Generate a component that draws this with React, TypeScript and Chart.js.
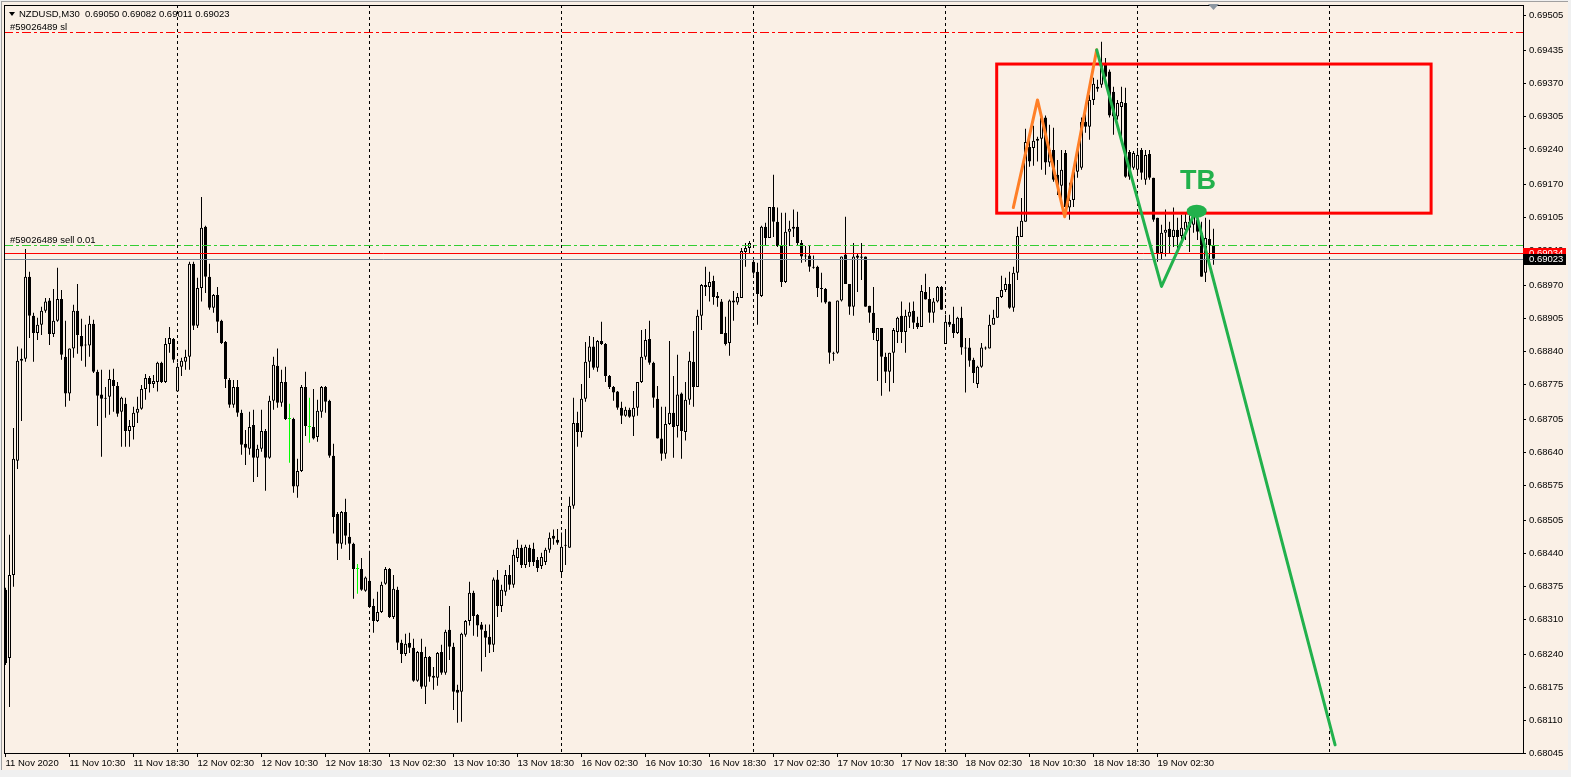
import React, { useEffect, useRef } from "react";
import { Chart, registerables } from "chart.js";

Chart.register(...registerables);

// ---------- DATA (NZDUSD, M30) ----------
const headerText = "NZDUSD,M30  0.69050 0.69082 0.69011 0.69023";

const opens = [
  0.68368,0.68233,0.68397,0.68623,0.68821,0.68825,0.68987,0.68910,0.68876,0.68892,
  0.68920,0.68940,0.68874,0.68900,0.68943,0.68829,0.68756,0.68845,0.68920,0.68870,
  0.68851,0.68851,0.68894,0.68799,0.68754,0.68746,0.68750,0.68783,0.68771,0.68720,
  0.68736,0.68682,0.68690,0.68718,0.68726,0.68765,0.68787,0.68775,0.68779,0.68817,
  0.68779,0.68854,0.68864,0.68760,0.68809,0.68819,0.68829,0.69013,0.68890,0.68965,
  0.69086,0.68987,0.68926,0.68951,0.68900,0.68858,0.68783,0.68734,0.68769,0.68718,
  0.68657,0.68647,0.68694,0.68629,0.68647,0.68682,0.68629,0.68742,0.68811,0.68738,
  0.68779,0.68706,0.68706,0.68572,0.68603,0.68769,0.68690,0.68690,0.68670,0.68720,
  0.68769,0.68742,0.68633,0.68518,0.68459,0.68522,0.68473,0.68459,0.68409,0.68409,
  0.68366,0.68386,0.68336,0.68306,0.68324,0.68380,0.68409,0.68314,0.68368,0.68263,
  0.68241,0.68263,0.68253,0.68188,0.68245,0.68176,0.68235,0.68198,0.68194,0.68245,
  0.68204,0.68289,0.68255,0.68170,0.68166,0.68279,0.68306,0.68362,0.68318,0.68299,
  0.68287,0.68275,0.68259,0.68388,0.68336,0.68364,0.68397,0.68378,0.68431,0.68451,
  0.68417,0.68451,0.68449,0.68427,0.68415,0.68423,0.68447,0.68475,0.68467,0.68403,
  0.68455,0.68451,0.68534,0.68698,0.68680,0.68746,0.68819,0.68849,0.68807,0.68860,
  0.68854,0.68791,0.68769,0.68760,0.68728,0.68712,0.68724,0.68710,0.68728,0.68779,
  0.68829,0.68864,0.68817,0.68746,0.68667,0.68637,0.68696,0.68718,0.68692,0.68756,
  0.68680,0.68744,0.68819,0.68769,0.68910,0.68971,0.68967,0.68979,0.68949,0.68938,
  0.68876,0.68856,0.68936,0.68936,0.68945,0.69036,0.69044,0.69017,0.68997,0.68949,
  0.69086,0.69064,0.69125,0.69096,0.69048,0.68977,0.69076,0.69082,0.69086,0.69054,
  0.69029,0.69029,0.69007,0.69007,0.68965,0.68963,0.68938,0.68837,0.68837,0.68940,
  0.69031,0.68973,0.68928,0.69029,0.69027,0.69027,0.68930,0.68916,0.68860,0.68886,
  0.68829,0.68799,0.68837,0.68878,0.68910,0.68878,0.68908,0.68920,0.68896,0.68888,
  0.68957,0.68943,0.68916,0.68938,0.68967,0.68854,0.68898,0.68894,0.68876,0.68906,
  0.68847,0.68847,0.68823,0.68775,0.68809,0.68845,0.68845,0.68892,0.68906,0.68947,
  0.68961,0.68973,0.68926,0.68995,0.69066,0.69096,0.69244,0.69242,0.69256,0.69260,
  0.69302,0.69213,0.69238,0.69189,0.69167,0.69232,0.69124,0.69139,0.69195,0.69203,
  0.69294,0.69284,0.69337,0.69359,0.69367,0.69406,0.69393,0.69353,0.69304,0.69323,
  0.69331,0.69234,0.69203,0.69199,0.69238,0.69179,0.69230,0.69183,0.69104,0.69034,
  0.69074,0.69082,0.69066,0.69080,0.69068,0.69080,0.69096,0.69090,0.69100,0.69074,
  0.68995,0.69062,0.69050,
];

const highs = [
  0.68372,0.68477,0.68688,0.68849,0.68845,0.69042,0.68997,0.68916,0.68906,0.68928,
  0.68945,0.68945,0.68963,0.69005,0.68961,0.68900,0.68845,0.68932,0.68973,0.68904,
  0.68892,0.68910,0.68902,0.68803,0.68803,0.68769,0.68803,0.68805,0.68779,0.68750,
  0.68748,0.68704,0.68730,0.68750,0.68773,0.68795,0.68791,0.68793,0.68819,0.68819,
  0.68866,0.68888,0.68866,0.68817,0.68827,0.68843,0.69017,0.69017,0.68985,0.69145,
  0.69088,0.69013,0.68953,0.68967,0.68902,0.68860,0.68787,0.68783,0.68783,0.68724,
  0.68684,0.68720,0.68724,0.68655,0.68724,0.68686,0.68752,0.68829,0.68845,0.68803,
  0.68809,0.68736,0.68708,0.68627,0.68773,0.68799,0.68748,0.68765,0.68744,0.68771,
  0.68771,0.68744,0.68657,0.68522,0.68524,0.68548,0.68500,0.68461,0.68419,0.68431,
  0.68394,0.68445,0.68350,0.68364,0.68384,0.68413,0.68411,0.68397,0.68374,0.68269,
  0.68281,0.68283,0.68271,0.68247,0.68271,0.68255,0.68237,0.68215,0.68245,0.68259,
  0.68289,0.68336,0.68263,0.68180,0.68283,0.68308,0.68384,0.68366,0.68320,0.68304,
  0.68299,0.68299,0.68392,0.68407,0.68378,0.68407,0.68417,0.68447,0.68467,0.68457,
  0.68457,0.68457,0.68461,0.68433,0.68441,0.68451,0.68481,0.68487,0.68488,0.68481,
  0.68488,0.68552,0.68748,0.68720,0.68775,0.68858,0.68870,0.68868,0.68862,0.68898,
  0.68856,0.68793,0.68771,0.68761,0.68740,0.68730,0.68728,0.68761,0.68779,0.68882,
  0.68884,0.68900,0.68819,0.68771,0.68730,0.68730,0.68860,0.68791,0.68833,0.68758,
  0.68779,0.68839,0.68880,0.68922,0.68973,0.69007,0.68997,0.68989,0.68957,0.68943,
  0.68908,0.68942,0.68959,0.68955,0.69044,0.69054,0.69058,0.69025,0.69015,0.69088,
  0.69094,0.69125,0.69189,0.69124,0.69114,0.69114,0.69098,0.69120,0.69116,0.69060,
  0.69048,0.69048,0.69029,0.69009,0.68995,0.68965,0.68938,0.68839,0.68940,0.69027,
  0.69106,0.68973,0.69054,0.69034,0.69054,0.69027,0.68930,0.68967,0.68886,0.68886,
  0.68837,0.68837,0.68886,0.68908,0.68938,0.68922,0.68936,0.68938,0.68908,0.68971,
  0.68993,0.68967,0.68945,0.68969,0.68969,0.68912,0.68912,0.68928,0.68908,0.68928,
  0.68866,0.68866,0.68827,0.68811,0.68856,0.68849,0.68912,0.68922,0.68947,0.68989,
  0.68985,0.68997,0.69007,0.69086,0.69143,0.69280,0.69258,0.69286,0.69264,0.69304,
  0.69306,0.69288,0.69282,0.69218,0.69238,0.69238,0.69173,0.69179,0.69248,0.69302,
  0.69313,0.69347,0.69381,0.69377,0.69452,0.69420,0.69397,0.69363,0.69337,0.69363,
  0.69361,0.69238,0.69236,0.69242,0.69242,0.69238,0.69238,0.69183,0.69104,0.69090,
  0.69120,0.69096,0.69124,0.69104,0.69110,0.69112,0.69124,0.69124,0.69120,0.69096,
  0.69104,0.69100,0.69082,
];

const lows = [
  0.68219,0.68136,0.68374,0.68607,0.68702,0.68819,0.68866,0.68819,0.68862,0.68872,
  0.68916,0.68852,0.68868,0.68898,0.68823,0.68730,0.68742,0.68827,0.68835,0.68821,
  0.68809,0.68829,0.68797,0.68692,0.68631,0.68708,0.68714,0.68720,0.68710,0.68651,
  0.68651,0.68651,0.68665,0.68698,0.68724,0.68744,0.68758,0.68767,0.68760,0.68777,
  0.68777,0.68837,0.68817,0.68760,0.68791,0.68803,0.68803,0.68882,0.68886,0.68938,
  0.68955,0.68922,0.68916,0.68876,0.68854,0.68767,0.68728,0.68728,0.68710,0.68635,
  0.68615,0.68635,0.68581,0.68591,0.68641,0.68564,0.68627,0.68724,0.68728,0.68730,
  0.68704,0.68619,0.68560,0.68550,0.68601,0.68672,0.68659,0.68665,0.68661,0.68708,
  0.68718,0.68629,0.68479,0.68427,0.68449,0.68457,0.68427,0.68350,0.68360,0.68366,
  0.68364,0.68332,0.68283,0.68304,0.68322,0.68378,0.68312,0.68310,0.68249,0.68223,
  0.68237,0.68243,0.68186,0.68186,0.68172,0.68142,0.68186,0.68170,0.68178,0.68200,
  0.68200,0.68229,0.68130,0.68105,0.68107,0.68275,0.68297,0.68277,0.68275,0.68206,
  0.68235,0.68243,0.68245,0.68314,0.68324,0.68356,0.68368,0.68372,0.68423,0.68411,
  0.68411,0.68413,0.68415,0.68403,0.68409,0.68417,0.68441,0.68457,0.68457,0.68392,
  0.68417,0.68451,0.68528,0.68651,0.68669,0.68740,0.68787,0.68803,0.68799,0.68852,
  0.68779,0.68765,0.68742,0.68724,0.68696,0.68710,0.68708,0.68672,0.68712,0.68777,
  0.68823,0.68813,0.68728,0.68667,0.68623,0.68627,0.68694,0.68629,0.68669,0.68627,
  0.68663,0.68734,0.68730,0.68769,0.68882,0.68949,0.68938,0.68932,0.68928,0.68874,
  0.68851,0.68831,0.68900,0.68932,0.68945,0.69007,0.69034,0.68991,0.68892,0.68947,
  0.69048,0.69064,0.69066,0.69046,0.68967,0.68975,0.69048,0.69066,0.69050,0.69015,
  0.69017,0.68997,0.69003,0.68947,0.68936,0.68934,0.68815,0.68821,0.68835,0.68938,
  0.68973,0.68912,0.68910,0.68957,0.68981,0.68928,0.68896,0.68862,0.68781,0.68752,
  0.68777,0.68760,0.68777,0.68856,0.68856,0.68837,0.68886,0.68884,0.68884,0.68888,
  0.68942,0.68896,0.68896,0.68936,0.68922,0.68854,0.68888,0.68866,0.68874,0.68833,
  0.68758,0.68809,0.68777,0.68767,0.68807,0.68843,0.68845,0.68892,0.68906,0.68945,
  0.68957,0.68924,0.68918,0.68981,0.69066,0.69096,0.69205,0.69207,0.69215,0.69199,
  0.69189,0.69205,0.69175,0.69149,0.69129,0.69106,0.69100,0.69125,0.69183,0.69199,
  0.69272,0.69258,0.69327,0.69353,0.69361,0.69377,0.69302,0.69268,0.69298,0.69264,
  0.69183,0.69179,0.69199,0.69189,0.69179,0.69169,0.69179,0.69096,0.69017,0.69021,
  0.69027,0.69034,0.69046,0.69034,0.69050,0.69060,0.69036,0.69074,0.69060,0.68987,
  0.68977,0.69017,0.69011,
];

const closes = [
  0.68223,0.68397,0.68627,0.68821,0.68825,0.68987,0.68910,0.68876,0.68892,0.68920,
  0.68938,0.68874,0.68900,0.68943,0.68833,0.68756,0.68845,0.68920,0.68872,0.68849,
  0.68852,0.68894,0.68799,0.68752,0.68746,0.68748,0.68785,0.68771,0.68716,0.68748,
  0.68682,0.68692,0.68718,0.68726,0.68765,0.68787,0.68775,0.68781,0.68817,0.68779,
  0.68854,0.68866,0.68823,0.68809,0.68821,0.68829,0.69013,0.68890,0.68965,0.69084,
  0.68987,0.68926,0.68951,0.68898,0.68856,0.68785,0.68734,0.68769,0.68718,0.68655,
  0.68649,0.68690,0.68629,0.68647,0.68682,0.68629,0.68742,0.68813,0.68738,0.68779,
  0.68706,0.68706,0.68572,0.68603,0.68769,0.68692,0.68690,0.68667,0.68722,0.68769,
  0.68740,0.68633,0.68512,0.68459,0.68522,0.68475,0.68459,0.68409,0.68409,0.68368,
  0.68392,0.68334,0.68306,0.68324,0.68378,0.68409,0.68314,0.68370,0.68263,0.68241,
  0.68261,0.68253,0.68188,0.68245,0.68176,0.68235,0.68196,0.68194,0.68243,0.68204,
  0.68285,0.68255,0.68166,0.68164,0.68281,0.68306,0.68362,0.68316,0.68297,0.68289,
  0.68273,0.68259,0.68388,0.68336,0.68368,0.68397,0.68378,0.68437,0.68451,0.68417,
  0.68453,0.68423,0.68423,0.68411,0.68433,0.68447,0.68471,0.68469,0.68461,0.68453,
  0.68457,0.68534,0.68698,0.68680,0.68746,0.68819,0.68849,0.68807,0.68860,0.68854,
  0.68791,0.68769,0.68758,0.68728,0.68712,0.68724,0.68710,0.68728,0.68779,0.68829,
  0.68862,0.68817,0.68748,0.68667,0.68637,0.68696,0.68718,0.68690,0.68754,0.68682,
  0.68744,0.68821,0.68769,0.68910,0.68971,0.68967,0.68977,0.68947,0.68945,0.68874,
  0.68854,0.68940,0.68940,0.68947,0.69038,0.69044,0.69054,0.68995,0.68953,0.69086,
  0.69064,0.69125,0.69096,0.69048,0.68977,0.69076,0.69082,0.69086,0.69054,0.69027,
  0.69027,0.69007,0.69005,0.68965,0.68963,0.68936,0.68837,0.68835,0.68940,0.69027,
  0.68973,0.68928,0.69027,0.69025,0.69025,0.68928,0.68916,0.68876,0.68886,0.68829,
  0.68799,0.68837,0.68882,0.68906,0.68878,0.68910,0.68918,0.68896,0.68888,0.68959,
  0.68942,0.68916,0.68938,0.68967,0.68922,0.68898,0.68892,0.68876,0.68906,0.68847,
  0.68845,0.68821,0.68797,0.68809,0.68847,0.68847,0.68892,0.68906,0.68947,0.68961,
  0.68973,0.68926,0.68995,0.69068,0.69098,0.69254,0.69215,0.69256,0.69260,0.69302,
  0.69213,0.69238,0.69179,0.69167,0.69199,0.69125,0.69139,0.69195,0.69238,0.69294,
  0.69284,0.69337,0.69369,0.69363,0.69406,0.69383,0.69306,0.69304,0.69331,0.69333,
  0.69185,0.69185,0.69232,0.69228,0.69193,0.69228,0.69183,0.69100,0.69034,0.69074,
  0.69080,0.69066,0.69080,0.69066,0.69084,0.69096,0.69084,0.69108,0.69076,0.68987,
  0.69064,0.69050,0.69023,
];

const timeTickBars = [0, 16, 32, 48, 64, 80, 96, 112, 128, 144, 160, 176, 192, 208, 224, 240, 256, 272, 288];
const timeTickLabels = [
  "11 Nov 2020", "11 Nov 10:30", "11 Nov 18:30", "12 Nov 02:30", "12 Nov 10:30", "12 Nov 18:30",
  "13 Nov 02:30", "13 Nov 10:30", "13 Nov 18:30", "16 Nov 02:30", "16 Nov 10:30", "16 Nov 18:30",
  "17 Nov 02:30", "17 Nov 10:30", "17 Nov 18:30", "18 Nov 02:30", "18 Nov 10:30", "18 Nov 18:30",
  "19 Nov 02:30",
];
const priceTickLabels = [
  "0.69505", "0.69435", "0.69370", "0.69305", "0.69240", "0.69170", "0.69105", "0.69040",
  "0.68970", "0.68905", "0.68840", "0.68775", "0.68705", "0.68640", "0.68575", "0.68505",
  "0.68440", "0.68375", "0.68310", "0.68240", "0.68175", "0.68110", "0.68045",
];
const daySeparatorBars = [43, 91, 139, 187, 235, 283, 331];

const viewFirstBar = -0.375;
const viewLastBar = 379.375;
const viewPriceTop = 0.695248;
const viewPriceBottom = 0.68045;

const slPrice = 0.69471;
const slLabel = "#59026489 sl";
const orderPrice = 0.6905;
const orderLabel = "#59026489 sell 0.01";
const askPrice = 0.69034;
const bidPrice = 0.69023;

const orangeZigzag = [
  { bar: 251.95, price: 0.69124 },
  { bar: 258.0, price: 0.69337 },
  { bar: 264.8, price: 0.69106 },
  { bar: 272.8, price: 0.69436 },
];
const greenZigzag = [
  { bar: 272.8, price: 0.69436 },
  { bar: 289.0, price: 0.68968 },
  { bar: 297.5, price: 0.69117 },
  { bar: 332.4, price: 0.68061 },
];
const zoneBox = { fromBar: 247.8, toBar: 356.4, top: 0.69408, bottom: 0.69113 };
const tbNote = { text: "TB", bar: 298.1, price: 0.69175 };
const tbDot = { bar: 297.8, price: 0.69117 };

// ---------- STYLE ----------
const BG = "#FAF0E6";
const FONT = "'Liberation Sans', Arial, sans-serif";
const PAINT_GREEN = "#22B14C";
const PAINT_ORANGE = "#FF7F27";

const isDoji = (i: number) => opens[i] === closes[i];

const overlayPlugin = {
  id: "mt4Overlay",
  beforeDraw(chart: any) {
    const { ctx, width, height } = chart;
    ctx.save();
    ctx.fillStyle = "#F0F0F0";
    ctx.fillRect(0, 0, width, height);
    ctx.fillStyle = BG;
    ctx.fillRect(2, 2, 1566, 768);
    ctx.fillStyle = "#A0A0A0";
    ctx.fillRect(1, 1, 1, 769);
    ctx.fillRect(1, 1, 1567, 1);
    ctx.restore();
  },
  beforeDatasetsDraw(chart: any) {
    const { ctx, chartArea: a } = chart;
    const xs = chart.scales.x;
    ctx.save();
    ctx.strokeStyle = "#000";
    ctx.lineWidth = 1;
    ctx.setLineDash([3, 3]);
    for (const b of daySeparatorBars) {
      const px = Math.floor(xs.getPixelForValue(b)) + 0.5;
      if (px > a.right - 1) continue;
      ctx.beginPath();
      ctx.moveTo(px, a.top);
      ctx.lineTo(px, a.bottom);
      ctx.stroke();
    }
    ctx.restore();
  },
  afterDatasetsDraw(chart: any) {
    const { ctx, chartArea: a } = chart;
    const xs = chart.scales.x;
    const ys = chart.scales.y;
    const px = (b: number) => xs.getPixelForValue(b);
    const py = (p: number) => ys.getPixelForValue(p);
    const hy = (p: number) => Math.round(py(p)) + 0.5;
    ctx.save();
    ctx.beginPath();
    ctx.rect(a.left, a.top, a.right - a.left, a.bottom - a.top);
    ctx.clip();

    const hline = (y: number, color: string, dash: number[]) => {
      ctx.save();
      ctx.strokeStyle = color;
      ctx.lineWidth = 1;
      ctx.setLineDash(dash);
      ctx.beginPath();
      ctx.moveTo(a.left, y);
      ctx.lineTo(a.right, y);
      ctx.stroke();
      ctx.restore();
    };
    hline(hy(slPrice), "#FF0000", [9, 3, 3, 3]);
    hline(hy(orderPrice), "#32CD32", [9, 3, 3, 3]);
    hline(hy(askPrice), "#FF0000", []);
    hline(hy(bidPrice), "#778899", []);

    ctx.font = `9.5px ${FONT}`;
    ctx.fillStyle = "#000";
    ctx.textAlign = "left";
    ctx.textBaseline = "alphabetic";
    ctx.fillText(slLabel, 10, hy(slPrice) - 3);
    ctx.fillText(orderLabel, 10, hy(orderPrice) - 2.5);

    // red zone rectangle
    ctx.strokeStyle = "#FF0000";
    ctx.lineWidth = 3;
    ctx.setLineDash([]);
    ctx.strokeRect(px(zoneBox.fromBar), py(zoneBox.top), px(zoneBox.toBar) - px(zoneBox.fromBar), py(zoneBox.bottom) - py(zoneBox.top));

    const poly = (pts: { bar: number; price: number }[], color: string) => {
      ctx.strokeStyle = color;
      ctx.lineWidth = 3;
      ctx.lineJoin = "round";
      ctx.lineCap = "round";
      ctx.beginPath();
      pts.forEach((p, i) => (i ? ctx.lineTo(px(p.bar), py(p.price)) : ctx.moveTo(px(p.bar), py(p.price))));
      ctx.stroke();
    };
    poly(orangeZigzag, PAINT_ORANGE);
    poly(greenZigzag, PAINT_GREEN);

    ctx.fillStyle = PAINT_GREEN;
    ctx.beginPath();
    ctx.ellipse(px(tbDot.bar), py(tbDot.price), 10, 6.5, 0, 0, Math.PI * 2);
    ctx.fill();

    ctx.font = `bold 27px ${FONT}`;
    ctx.textAlign = "center";
    ctx.textBaseline = "middle";
    ctx.fillText(tbNote.text, px(tbNote.bar), py(tbNote.price));
    ctx.restore();

    // plot frame
    ctx.save();
    ctx.strokeStyle = "#000";
    ctx.lineWidth = 1;
    ctx.strokeRect(a.left + 0.5, a.top + 0.5, a.right - a.left, a.bottom - a.top);
    ctx.restore();
  },
  afterDraw(chart: any) {
    const { ctx, chartArea: a } = chart;
    const ys = chart.scales.y;
    ctx.save();
    ctx.font = `9.5px ${FONT}`;
    ctx.textBaseline = "middle";
    ctx.textAlign = "left";
    const tag = (price: number, bg: string) => {
      const y = Math.round(ys.getPixelForValue(price));
      ctx.fillStyle = bg;
      ctx.fillRect(a.right, y - 5, 43, 11);
      ctx.fillStyle = "#FFFFFF";
      ctx.fillText(price.toFixed(5), a.right + 6, y + 0.5);
    };
    tag(askPrice, "#FF0000");
    tag(bidPrice, "#000000");

    // header
    ctx.fillStyle = "#000";
    ctx.beginPath();
    ctx.moveTo(9, 12);
    ctx.lineTo(15, 12);
    ctx.lineTo(12, 16);
    ctx.closePath();
    ctx.fill();
    ctx.fillText(headerText, 19, 14);

    // chart shift marker
    ctx.fillStyle = "#8C96A0";
    ctx.beginPath();
    ctx.moveTo(1208, 4);
    ctx.lineTo(1219, 4);
    ctx.lineTo(1213.5, 10);
    ctx.closePath();
    ctx.fill();
    ctx.restore();
  },
};

export default function App() {
  const ref = useRef<HTMLCanvasElement | null>(null);

  useEffect(() => {
    const canvas = ref.current;
    if (!canvas) return;
    const bodies = opens.map((o, i) => ({ x: i, y: [o, closes[i]] }));
    const wicks = highs.map((h, i) => ({ x: i, y: [lows[i], h] }));

    const chart = new Chart(canvas, {
      type: "bar",
      data: {
        datasets: [
          {
            label: "body",
            data: bodies as any,
            backgroundColor: (c: any) =>
              isDoji(c.dataIndex) ? "#00FF00" : closes[c.dataIndex] > opens[c.dataIndex] ? BG : "#000000",
            borderColor: (c: any) => (isDoji(c.dataIndex) ? "#00FF00" : "#000000"),
            borderWidth: 1,
            borderSkipped: false,
            grouped: false,
            barThickness: 3,
            maxBarThickness: 3,
            minBarLength: 1,
            inflateAmount: 0,
            order: 1,
          } as any,
          {
            label: "wick",
            data: wicks as any,
            backgroundColor: (c: any) => (isDoji(c.dataIndex) ? "#00FF00" : "#000000"),
            borderWidth: 0,
            grouped: false,
            barThickness: 1,
            maxBarThickness: 1,
            inflateAmount: 0,
            order: 2,
          } as any,
        ],
      },
      options: {
        animation: false,
        responsive: false,
        maintainAspectRatio: false,
        devicePixelRatio: 1,
        events: [],
        layout: { padding: { left: 4, top: 5, right: 0, bottom: 0 } },
        plugins: { legend: { display: false }, tooltip: { enabled: false } },
        scales: {
          x: {
            type: "linear",
            min: viewFirstBar,
            max: viewLastBar,
            offset: false,
            afterBuildTicks: (s: any) => {
              s.ticks = timeTickBars.map((v) => ({ value: v }));
            },
            afterFit: (s: any) => {
              s.height = 24;
              s.paddingLeft = 0;
              s.paddingRight = 0;
            },
            grid: { display: true, drawOnChartArea: false, drawTicks: true, tickLength: 4, tickColor: "#000", offset: false },
            border: { display: true, color: "#000" },
            ticks: {
              autoSkip: false,
              maxRotation: 0,
              minRotation: 0,
              align: "start",
              padding: 1,
              color: "#000",
              font: { family: FONT, size: 9.5 },
              callback: (v: any) => {
                const k = timeTickBars.indexOf(Number(v));
                return k >= 0 ? timeTickLabels[k] : "";
              },
            },
          },
          y: {
            type: "linear",
            position: "right",
            min: viewPriceBottom,
            max: viewPriceTop,
            afterBuildTicks: (s: any) => {
              s.ticks = priceTickLabels.map((t) => ({ value: parseFloat(t) }));
            },
            afterFit: (s: any) => {
              s.width = 48;
              s.paddingTop = 0;
              s.paddingBottom = 0;
            },
            grid: { display: true, drawOnChartArea: false, drawTicks: true, tickLength: 3, tickColor: "#000" },
            border: { display: true, color: "#000" },
            ticks: {
              autoSkip: false,
              padding: 3,
              color: "#000",
              font: { family: FONT, size: 9.5 },
              callback: (v: any) => Number(v).toFixed(5),
            },
          },
        },
      } as any,
      plugins: [overlayPlugin as any],
    });
    return () => chart.destroy();
  }, []);

  return (
    <div style={{ position: "fixed", left: 0, top: 0, width: 1571, height: 777, background: "#F0F0F0" }}>
      <canvas ref={ref} width={1571} height={777} style={{ display: "block", width: 1571, height: 777 }} />
    </div>
  );
}
